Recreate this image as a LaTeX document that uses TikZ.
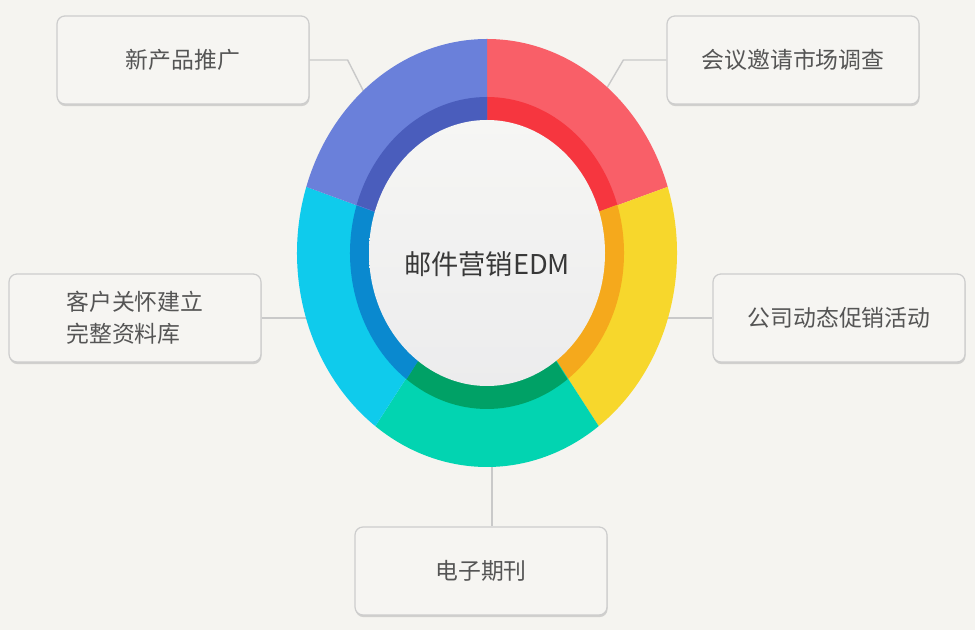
\documentclass[tikz,border=0pt]{standalone}
\usepackage{fontspec}
\newfontfamily\cjk{Noto Sans CJK SC}
\usepackage{xcolor}
\usetikzlibrary{shadows}
\definecolor{bgpaper}{HTML}{F5F4F0}
\definecolor{boxfill}{HTML}{F6F5F2}
\definecolor{boxline}{HTML}{CDCDCD}
\definecolor{wire}{HTML}{C9C9C9}
\definecolor{txtgray}{HTML}{555555}
\definecolor{diskA}{HTML}{F6F6F4}\definecolor{diskB}{HTML}{ECECED}
\definecolor{redA}{HTML}{F95F68}\definecolor{redB}{HTML}{F6363F}
\definecolor{yelA}{HTML}{F7D72C}\definecolor{yelB}{HTML}{F5A91C}
\definecolor{grnA}{HTML}{02D4B1}\definecolor{grnB}{HTML}{00A166}
\definecolor{cyaA}{HTML}{0FCBEC}\definecolor{cyaB}{HTML}{0A89CF}
\definecolor{bluA}{HTML}{6A80DA}\definecolor{bluB}{HTML}{4A5DBC}

\begin{document}
\begin{tikzpicture}[x=0.2mm, y=0.2mm,
  topic/.style={draw=boxline, fill=boxfill, line width=0.7pt, rounded corners=4.5pt,
    minimum width=50.4mm, minimum height=17.6mm, align=left, text=txtgray,
    font=\cjk\fontsize{13}{18}\selectfont,
    drop shadow={shadow xshift=0.3pt, shadow yshift=-1.2pt, fill=black!35, opacity=0.45}},
  wire/.style={draw=wire, line width=0.8pt},
  hub/.style={font=\cjk\fontsize{15.5}{18}\selectfont, text=black!78}]

\useasboundingbox[fill=bgpaper] (0,0) rectangle (975,630);

%% ── topic boxes ──────────────────────────────────────────
\node[topic] (p1) at (183,570) {新产品推广};
\node[topic] (p2) at (793,570) {会议邀请市场调查};
\node[topic] (p3) at (135,312) {客户关怀建立\\完整资料库};
\node[topic] (p4) at (839,312) {公司动态促销活动};
\node[topic] (p5) at (481,59)  {电子期刊};

%% ── wires (ends hidden under the ring) ───────────────────
\coordinate (c)  at (487,377);
\coordinate (r1) at (369,528);
\coordinate (r2) at (601,532);
\coordinate (r3) at (315,312);
\coordinate (r4) at (665,312);
\coordinate (r5) at (492,175);
\draw[wire] (p1.east) -- ++(38,0) -- (r1);
\draw[wire] (p2.west) -- ++(-43,0) -- (r2);
\draw[wire] (p3.east) -- (r3);
\draw[wire] (r4) -- (p4.west);
\draw[wire] (r5) -- (r5 |- p5.north);

%% ── ring ─────────────────────────────────────────────────
\foreach \s/\oc/\ic in {18/redA/redB, -54/yelA/yelB, -126/grnA/grnB, 162/cyaA/cyaB, 90/bluA/bluB}{
  \fill[\oc] (c) -- ++(\s:190 and 214) arc[start angle=\s, delta angle=72, x radius=190, y radius=214] -- cycle;
  \fill[\ic] (c) -- ++(\s:137 and 156) arc[start angle=\s, delta angle=72, x radius=137, y radius=156] -- cycle;
}
\shade[top color=diskA, bottom color=diskB] (c) ellipse[x radius=118, y radius=133];
\node[hub] (core) at (487,366) {邮件营销EDM};
\end{tikzpicture}
\end{document}
